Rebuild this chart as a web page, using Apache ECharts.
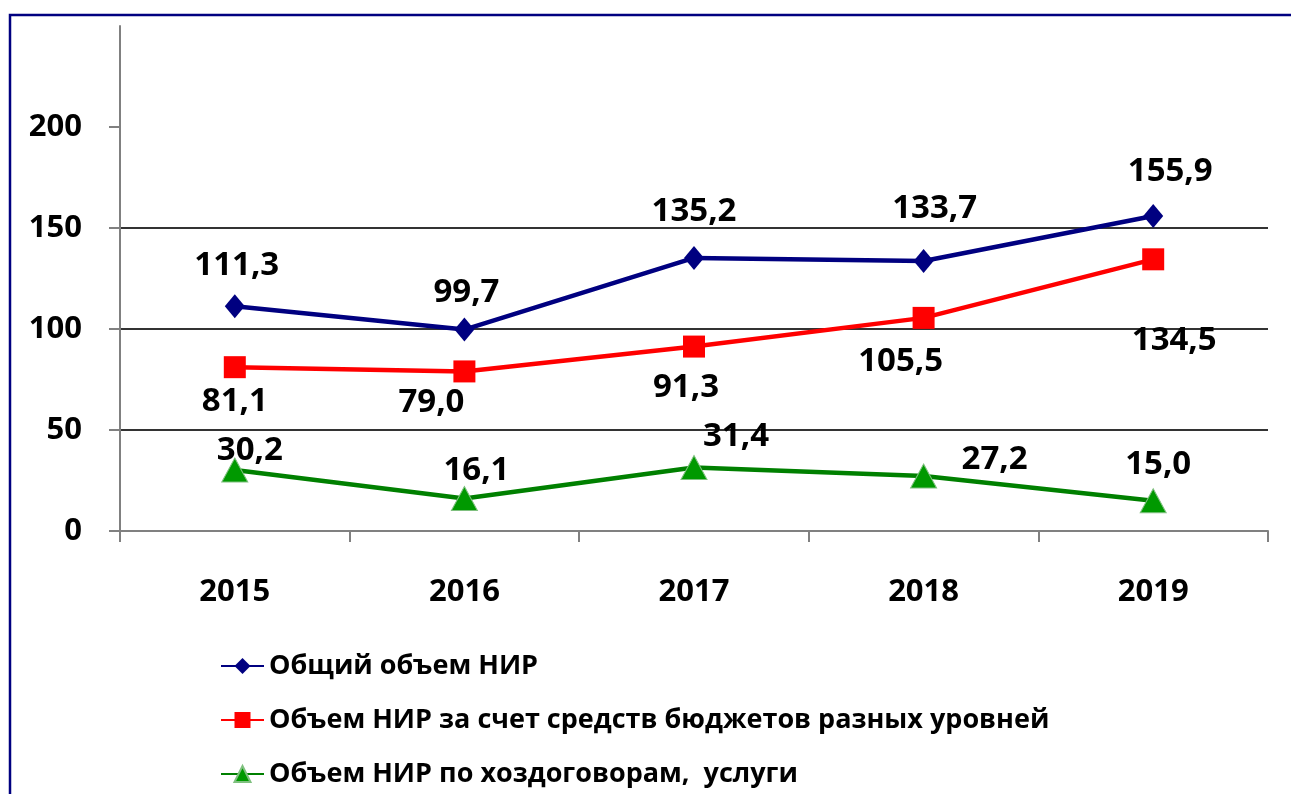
<!DOCTYPE html>
<html>
<head>
<meta charset="utf-8">
<script src="https://cdn.jsdelivr.net/npm/echarts@6/dist/echarts.min.js"></script>
<style>
  html, body { margin: 0; padding: 0; background: #fff; }
  #chart { width: 1291px; height: 794px; }
</style>
</head>
<body>
<div id="chart"></div>
<script>
// data
const years = ['2015', '2016', '2017', '2018', '2019']
const seriesNames = [
  'Общий объем НИР',
  'Объем НИР за счет средств бюджетов разных уровней',
  'Объем НИР по хоздоговорам,  услуги',
]
const totalValues = [111.3, 99.7, 135.2, 133.7, 155.9]
const budgetValues = [81.1, 79.0, 91.3, 105.5, 134.5]
const contractValues = [30.2, 16.1, 31.4, 27.2, 15.0]
const yTicks = [0, 50, 100, 150, 200]

// label offsets (px, from marker centre)
const totalOffsets = [[2, -41], [2, -37], [0, -46], [11, -52], [17, -44]]
const budgetOffsets = [[0, 34], [-33, 31], [-8, 41], [-23, 44], [21, 81]]
const contractOffsets = [[15, -19], [12, -28], [42, -31], [71, -16], [5, -36]]

const FONT = '"Open Sans", "Noto Sans", sans-serif'
const fmt = (v) => v.toFixed(1).replace('.', ',')

const withLabels = (values, offsets) =>
  values.map((v, i) => ({ value: v, label: { offset: offsets[i] } }))

const labelStyle = {
  show: true,
  position: 'inside',
  color: '#000',
  fontFamily: FONT,
  fontWeight: 'bold',
  fontSize: 33,
  formatter: (p) => fmt(p.value),
}

const chart = echarts.init(document.getElementById('chart'))
chart.setOption({
  backgroundColor: '#fff',
  animation: false,
  graphic: [
    {
      type: 'rect',
      shape: { x: 10, y: 15, width: 1400, height: 900 },
      style: { fill: 'none', stroke: '#000080', lineWidth: 2.5 },
      silent: true,
    },
  ],
  grid: { left: 120, right: 23, top: 26, bottom: 263 },
  legend: {
    orient: 'vertical',
    left: 215,
    top: 646,
    height: 200,
    itemWidth: 43,
    itemHeight: 20,
    itemGap: 24,
    textStyle: {
      fontFamily: FONT,
      fontWeight: 'bold',
      fontSize: 27,
      lineHeight: 30,
      color: '#000',
    },
    data: seriesNames,
  },
  xAxis: {
    type: 'category',
    data: years,
    axisLine: { lineStyle: { color: '#808080', width: 2 } },
    axisTick: { show: true, length: 11, lineStyle: { color: '#808080', width: 2 } },
    axisLabel: {
      margin: 46,
      color: '#000',
      fontFamily: FONT,
      fontWeight: 'bold',
      fontSize: 31,
    },
  },
  yAxis: {
    type: 'value',
    min: 0,
    max: 250,
    interval: 50,
    axisLine: { show: true, lineStyle: { color: '#808080', width: 2 } },
    axisTick: {
      show: true,
      length: 11,
      customValues: yTicks,
      lineStyle: { color: '#808080', width: 2 },
    },
    axisLabel: {
      showMaxLabel: false,
      margin: 38,
      color: '#000',
      fontFamily: FONT,
      fontWeight: 'bold',
      fontSize: 31,
    },
    splitLine: {
      showMaxLine: false,
      lineStyle: { color: '#333', width: 2 },
    },
  },
  series: [
    {
      name: seriesNames[0],
      type: 'line',
      data: withLabels(totalValues, totalOffsets),
      symbol: 'diamond',
      symbolSize: [20, 24],
      lineStyle: { color: '#000080', width: 4.5 },
      itemStyle: { color: '#000080' },
      label: labelStyle,
      z: 4,
    },
    {
      name: seriesNames[1],
      type: 'line',
      data: withLabels(budgetValues, budgetOffsets),
      symbol: 'rect',
      symbolSize: 22,
      lineStyle: { color: '#ff0000', width: 4.5 },
      itemStyle: { color: '#ff0000' },
      label: labelStyle,
      z: 3,
    },
    {
      name: seriesNames[2],
      type: 'line',
      data: withLabels(contractValues, contractOffsets),
      symbol: 'triangle',
      symbolSize: [26, 24],
      lineStyle: { color: '#008000', width: 4.5 },
      itemStyle: { color: '#009900', borderColor: '#7fc07f', borderWidth: 1 },
      label: labelStyle,
      z: 2,
    },
  ],
})
</script>
</body>
</html>
